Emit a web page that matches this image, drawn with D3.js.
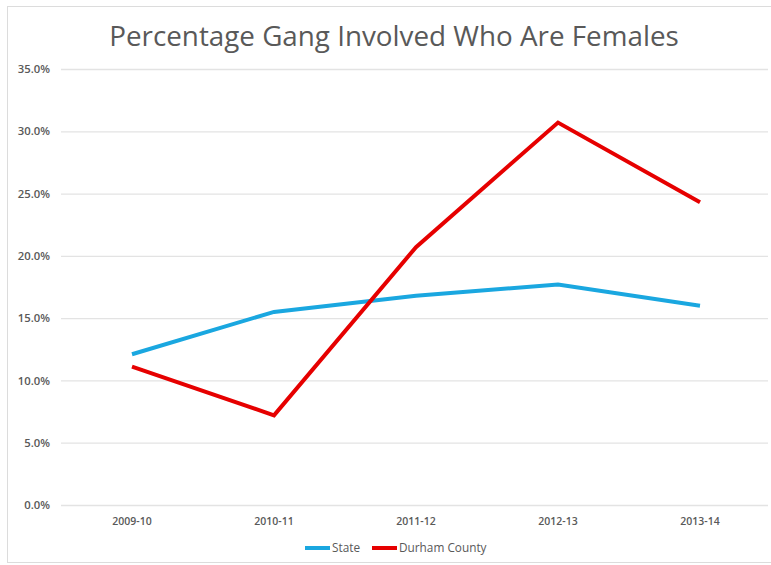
<!DOCTYPE html>
<html><head><meta charset="utf-8">
<script src="https://cdn.jsdelivr.net/npm/d3@7"></script>
<style>body{margin:0;background:#fff;}svg{display:block;}</style>
</head><body>
<script>
const categories = ["2009-10","2010-11","2011-12","2012-13","2013-14"];
const stateValues = [12.1, 15.5, 16.8, 17.7, 16.0];
const durhamValues = [11.1, 7.2, 20.7, 30.7, 24.3];
const yTicks = [0,5,10,15,20,25,30,35];
const seriesNames = ["State","Durham County"];
const seriesColors = ["#1aa7e0","#e60000"];

const W = 771, H = 565;
const svg = d3.select("body").append("svg").attr("width", W).attr("height", H);
svg.append("rect").attr("x",7.5).attr("y",6.5).attr("width",W).attr("height",556)
  .attr("fill","#fff").attr("stroke","#dcdcdc");

const margin = {left:61, right:771, top:69, bottom:505};
const x = d3.scaleBand().domain(categories).range([margin.left, margin.right]);
const y = d3.scaleLinear().domain([0,35]).range([margin.bottom, margin.top]);

svg.append("text").attr("x",394).attr("y",46).attr("text-anchor","middle")
  .attr("font-family","'Open Sans', sans-serif").attr("font-size",27.8).attr("fill","#595959")
  .text("Percentage Gang Involved Who Are Females");

const yAxis = d3.axisLeft(y).tickValues(yTicks).tickSize(-(768-margin.left))
  .tickFormat(d => d.toFixed(1) + "%");
const gy = svg.append("g").attr("transform",`translate(${margin.left},0)`).call(yAxis);
gy.select(".domain").remove();
gy.selectAll(".tick line").attr("stroke","#e3e3e3").attr("stroke-width",1.3);
gy.selectAll(".tick text").attr("x",-11).attr("font-family","'Open Sans', sans-serif")
  .attr("font-size",11.3).attr("font-weight",600).attr("fill","#595959");

const xAxis = d3.axisBottom(x).tickSize(0);
const gx = svg.append("g").attr("transform",`translate(0,${margin.bottom})`).call(xAxis);
gx.select(".domain").remove();
gx.selectAll(".tick text").attr("dy",0).attr("y",20).attr("font-family","'Open Sans', sans-serif")
  .attr("font-size",10.5).attr("font-weight",600).attr("fill","#595959");

const line = d3.line().x((d,i)=>x(categories[i]) + x.bandwidth()/2).y(d=>y(d));
[stateValues, durhamValues].forEach((vals,k)=>{
  svg.append("path").datum(vals).attr("d",line).attr("fill","none")
    .attr("stroke",seriesColors[k]).attr("stroke-width",4).attr("stroke-linejoin","miter");
});

const legend = svg.append("g").attr("transform","translate(305,548)");
const legX = [0, 67];
seriesNames.forEach((n,k)=>{
  const g = legend.append("g").attr("transform",`translate(${legX[k]},0)`);
  g.append("line").attr("x1",0).attr("x2",25).attr("y1",0).attr("y2",0)
    .attr("stroke",seriesColors[k]).attr("stroke-width",4);
  g.append("text").attr("x",27).attr("y",4).attr("font-family","'Open Sans', sans-serif")
    .attr("font-size",11.8).attr("fill","#595959").text(n);
});
</script>
</body></html>
